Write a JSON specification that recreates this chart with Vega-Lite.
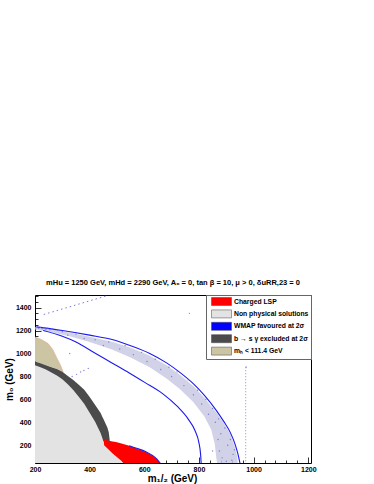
{
  "$schema": "https://vega.github.io/schema/vega-lite/v6.json",
  "width": 276,
  "height": 168,
  "autosize": "none",
  "padding": {"left": 35, "top": 295, "right": 63, "bottom": 21},
  "background": "#ffffff",
  "title": {
    "text": "mHu = 1250 GeV, mHd = 2290 GeV, A₀ = 0, tan β = 10, μ > 0, δuRR,23 = 0",
    "font": "Liberation Sans",
    "fontWeight": "bold",
    "fontSize": 7.5,
    "color": "#000000",
    "anchor": "middle",
    "baseline": "alphabetic",
    "offset": 0
  },
  "datasets": {
    "areas": [
      {"region": "mₕ < 111.4 GeV", "x": 200, "top": 1144, "bottom": 930},
      {"region": "mₕ < 111.4 GeV", "x": 225, "top": 1120, "bottom": 910},
      {"region": "mₕ < 111.4 GeV", "x": 248, "top": 1086, "bottom": 891},
      {"region": "mₕ < 111.4 GeV", "x": 265, "top": 1035, "bottom": 877},
      {"region": "mₕ < 111.4 GeV", "x": 278, "top": 970, "bottom": 866},
      {"region": "mₕ < 111.4 GeV", "x": 292, "top": 905, "bottom": 852},
      {"region": "mₕ < 111.4 GeV", "x": 303, "top": 840, "bottom": 835},

      {"region": "Non physical solutions", "x": 200, "top": 930, "bottom": 45},
      {"region": "Non physical solutions", "x": 220, "top": 914, "bottom": 45},
      {"region": "Non physical solutions", "x": 240, "top": 898, "bottom": 45},
      {"region": "Non physical solutions", "x": 260, "top": 881, "bottom": 45},
      {"region": "Non physical solutions", "x": 280, "top": 864, "bottom": 45},
      {"region": "Non physical solutions", "x": 300, "top": 840, "bottom": 45},
      {"region": "Non physical solutions", "x": 320, "top": 803, "bottom": 45},
      {"region": "Non physical solutions", "x": 340, "top": 768, "bottom": 45},
      {"region": "Non physical solutions", "x": 360, "top": 727, "bottom": 45},
      {"region": "Non physical solutions", "x": 380, "top": 683, "bottom": 45},
      {"region": "Non physical solutions", "x": 400, "top": 621, "bottom": 45},
      {"region": "Non physical solutions", "x": 420, "top": 550, "bottom": 45},
      {"region": "Non physical solutions", "x": 440, "top": 480, "bottom": 45},
      {"region": "Non physical solutions", "x": 447, "top": 445, "bottom": 45},
      {"region": "Non physical solutions", "x": 455, "top": 404, "bottom": 45},
      {"region": "Non physical solutions", "x": 465, "top": 352, "bottom": 45},
      {"region": "Non physical solutions", "x": 470, "top": 310, "bottom": 45},
      {"region": "Non physical solutions", "x": 473, "top": 250, "bottom": 45},
      {"region": "Non physical solutions", "x": 484, "top": 127, "bottom": 45},
      {"region": "Non physical solutions", "x": 500, "top": 95, "bottom": 45},
      {"region": "Non physical solutions", "x": 520, "top": 55, "bottom": 45},
      {"region": "Non physical solutions", "x": 525, "top": 45, "bottom": 45},

      {"region": "b → s γ excluded at 2σ", "x": 200, "top": 930, "bottom": 897},
      {"region": "b → s γ excluded at 2σ", "x": 220, "top": 914, "bottom": 879},
      {"region": "b → s γ excluded at 2σ", "x": 240, "top": 898, "bottom": 861},
      {"region": "b → s γ excluded at 2σ", "x": 260, "top": 881, "bottom": 835},
      {"region": "b → s γ excluded at 2σ", "x": 280, "top": 864, "bottom": 809},
      {"region": "b → s γ excluded at 2σ", "x": 300, "top": 840, "bottom": 775},
      {"region": "b → s γ excluded at 2σ", "x": 320, "top": 803, "bottom": 732},
      {"region": "b → s γ excluded at 2σ", "x": 340, "top": 768, "bottom": 681},
      {"region": "b → s γ excluded at 2σ", "x": 360, "top": 727, "bottom": 623},
      {"region": "b → s γ excluded at 2σ", "x": 380, "top": 683, "bottom": 561},
      {"region": "b → s γ excluded at 2σ", "x": 400, "top": 621, "bottom": 484},
      {"region": "b → s γ excluded at 2σ", "x": 420, "top": 550, "bottom": 405},
      {"region": "b → s γ excluded at 2σ", "x": 440, "top": 480, "bottom": 306},
      {"region": "b → s γ excluded at 2σ", "x": 447, "top": 445, "bottom": 258},
      {"region": "b → s γ excluded at 2σ", "x": 450, "top": 430, "bottom": 235},
      {"region": "b → s γ excluded at 2σ", "x": 455, "top": 404, "bottom": 235},
      {"region": "b → s γ excluded at 2σ", "x": 465, "top": 352, "bottom": 235},
      {"region": "b → s γ excluded at 2σ", "x": 470, "top": 310, "bottom": 235},
      {"region": "b → s γ excluded at 2σ", "x": 473, "top": 250, "bottom": 235},

      {"region": "Charged LSP", "x": 451, "top": 250, "bottom": 250},
      {"region": "Charged LSP", "x": 453, "top": 249, "bottom": 200},
      {"region": "Charged LSP", "x": 470, "top": 240, "bottom": 160},
      {"region": "Charged LSP", "x": 484, "top": 233, "bottom": 127},
      {"region": "Charged LSP", "x": 496, "top": 229, "bottom": 103},
      {"region": "Charged LSP", "x": 520, "top": 212, "bottom": 55},
      {"region": "Charged LSP", "x": 523, "top": 210, "bottom": 45},
      {"region": "Charged LSP", "x": 545, "top": 195, "bottom": 45},
      {"region": "Charged LSP", "x": 575, "top": 170, "bottom": 45},
      {"region": "Charged LSP", "x": 606, "top": 142, "bottom": 45},
      {"region": "Charged LSP", "x": 630, "top": 110, "bottom": 45},
      {"region": "Charged LSP", "x": 645, "top": 80, "bottom": 45},
      {"region": "Charged LSP", "x": 652, "top": 60, "bottom": 45},
      {"region": "Charged LSP", "x": 657, "top": 45, "bottom": 45},

      {"region": "WMAP band", "x": 200, "top": 1230, "bottom": 1210},
      {"region": "WMAP band", "x": 260, "top": 1210, "bottom": 1185},
      {"region": "WMAP band", "x": 330, "top": 1180, "bottom": 1148},
      {"region": "WMAP band", "x": 400, "top": 1145, "bottom": 1100},
      {"region": "WMAP band", "x": 482, "top": 1103, "bottom": 1035},
      {"region": "WMAP band", "x": 550, "top": 1050, "bottom": 965},
      {"region": "WMAP band", "x": 620, "top": 980, "bottom": 880},
      {"region": "WMAP band", "x": 680, "top": 900, "bottom": 785},
      {"region": "WMAP band", "x": 730, "top": 815, "bottom": 690},
      {"region": "WMAP band", "x": 780, "top": 715, "bottom": 575},
      {"region": "WMAP band", "x": 820, "top": 615, "bottom": 450},
      {"region": "WMAP band", "x": 845, "top": 540, "bottom": 335},
      {"region": "WMAP band", "x": 858, "top": 500, "bottom": 210},
      {"region": "WMAP band", "x": 863, "top": 485, "bottom": 100},
      {"region": "WMAP band", "x": 866, "top": 478, "bottom": 45},
      {"region": "WMAP band", "x": 890, "top": 395, "bottom": 45},
      {"region": "WMAP band", "x": 915, "top": 295, "bottom": 45},
      {"region": "WMAP band", "x": 930, "top": 195, "bottom": 45},
      {"region": "WMAP band", "x": 940, "top": 100, "bottom": 45},
      {"region": "WMAP band", "x": 942, "top": 45, "bottom": 45}
    ],
    "curves": [
      {"curve": "outer", "x": 205, "y": 1232},
      {"curve": "outer", "x": 300, "y": 1200},
      {"curve": "outer", "x": 400, "y": 1160},
      {"curve": "outer", "x": 482, "y": 1122},
      {"curve": "outer", "x": 550, "y": 1068},
      {"curve": "outer", "x": 620, "y": 1000},
      {"curve": "outer", "x": 680, "y": 920},
      {"curve": "outer", "x": 730, "y": 835},
      {"curve": "outer", "x": 780, "y": 735},
      {"curve": "outer", "x": 820, "y": 635},
      {"curve": "outer", "x": 860, "y": 515},
      {"curve": "outer", "x": 890, "y": 410},
      {"curve": "outer", "x": 915, "y": 310},
      {"curve": "outer", "x": 932, "y": 210},
      {"curve": "outer", "x": 943, "y": 120},
      {"curve": "outer", "x": 950, "y": 45},
      {"curve": "inner", "x": 230, "y": 1200},
      {"curve": "inner", "x": 300, "y": 1150},
      {"curve": "inner", "x": 350, "y": 1100},
      {"curve": "inner", "x": 422, "y": 1000},
      {"curve": "inner", "x": 480, "y": 920},
      {"curve": "inner", "x": 545, "y": 830},
      {"curve": "inner", "x": 600, "y": 750},
      {"curve": "inner", "x": 667, "y": 650},
      {"curve": "inner", "x": 720, "y": 540},
      {"curve": "inner", "x": 760, "y": 430},
      {"curve": "inner", "x": 785, "y": 330},
      {"curve": "inner", "x": 800, "y": 220},
      {"curve": "inner", "x": 806, "y": 120},
      {"curve": "inner", "x": 808, "y": 45},
      {"curve": "redEdge", "x": 545, "y": 196},
      {"curve": "redEdge", "x": 575, "y": 171},
      {"curve": "redEdge", "x": 606, "y": 143},
      {"curve": "redEdge", "x": 630, "y": 111},
      {"curve": "redEdge", "x": 645, "y": 81},
      {"curve": "redEdge", "x": 652, "y": 61},
      {"curve": "redEdge", "x": 658, "y": 45},
      {"curve": "tanEdge", "x": 200, "y": 1144},
      {"curve": "tanEdge", "x": 225, "y": 1120},
      {"curve": "tanEdge", "x": 248, "y": 1086},
      {"curve": "tanEdge", "x": 265, "y": 1035},
      {"curve": "tanEdge", "x": 278, "y": 970},
      {"curve": "tanEdge", "x": 292, "y": 905},
      {"curve": "tanEdge", "x": 303, "y": 840},
      {"curve": "diagTop", "x": 232, "y": 1340},
      {"curve": "diagTop", "x": 465, "y": 1505}
    ],
    "dots": [
      {"x": 203, "y": 1222}, {"x": 208, "y": 1230}, {"x": 214, "y": 1219}, {"x": 220, "y": 1226},
      {"x": 226, "y": 1216}, {"x": 232, "y": 1224}, {"x": 240, "y": 1212}, {"x": 247, "y": 1220},
      {"x": 255, "y": 1208}, {"x": 262, "y": 1215},
      {"x": 336, "y": 800}, {"x": 352, "y": 818}, {"x": 367, "y": 838}, {"x": 379, "y": 852},
      {"x": 395, "y": 870}, {"x": 327, "y": 1000}, {"x": 765, "y": 1350}, {"x": 973, "y": 882},
      {"x": 300, "y": 1190}, {"x": 320, "y": 1160}, {"x": 350, "y": 1170}, {"x": 380, "y": 1130},
      {"x": 420, "y": 1120}, {"x": 450, "y": 1070}, {"x": 470, "y": 1100}, {"x": 510, "y": 1040},
      {"x": 530, "y": 1070}, {"x": 560, "y": 990}, {"x": 590, "y": 1010}, {"x": 610, "y": 930},
      {"x": 640, "y": 950}, {"x": 660, "y": 860}, {"x": 690, "y": 880}, {"x": 700, "y": 800},
      {"x": 720, "y": 840}, {"x": 745, "y": 720}, {"x": 760, "y": 770}, {"x": 780, "y": 640},
      {"x": 795, "y": 680}, {"x": 810, "y": 560}, {"x": 825, "y": 600}, {"x": 835, "y": 470},
      {"x": 850, "y": 520}, {"x": 860, "y": 400}, {"x": 872, "y": 430}, {"x": 880, "y": 300},
      {"x": 895, "y": 350}, {"x": 905, "y": 200}, {"x": 915, "y": 250}, {"x": 925, "y": 120},
      {"x": 930, "y": 160}, {"x": 875, "y": 150}, {"x": 885, "y": 90}, {"x": 900, "y": 60},
      {"x": 920, "y": 70}, {"x": 870, "y": 250}, {"x": 850, "y": 150}
    ],
    "rules": [
      {"x": 971, "y": 880, "y2": 45}
    ]
  },
  "encoding": {
    "x": {
      "field": "x", "type": "quantitative",
      "scale": {"domain": [200, 1210], "nice": false, "zero": false},
      "axis": {
        "title": "m₁/₂ (GeV)",
        "values": [200,240,280,320,360,400,440,480,520,560,600,640,680,720,760,800,840,880,920,960,1000,1040,1080,1120,1160,1200],
        "labelExpr": "datum.value % 200 === 0 ? datum.label : ''",
        "tickSize": {"condition": {"test": "datum.value % 200 === 0", "value": -6}, "value": -3},
        "labelPadding": 8,
        "titleFontSize": 10,
        "titleX": 137,
        "titleY": 15,
        "titleAlign": "center",
        "titleBaseline": "middle",
        "titleAnchor": null
      }
    },
    "y": {
      "field": "top", "type": "quantitative", "stack": null,
      "scale": {"domain": [45, 1510], "nice": false, "zero": false},
      "axis": {
        "title": "m₀ (GeV)",
        "values": [50,100,150,200,250,300,350,400,450,500,550,600,650,700,750,800,850,900,950,1000,1050,1100,1150,1200,1250,1300,1350,1400,1450,1500],
        "labelExpr": "datum.value % 200 === 0 ? datum.label : ''",
        "tickSize": {"condition": {"test": "datum.value % 200 === 0", "value": -6}, "value": -3},
        "labelPadding": 10,
        "titleFontSize": 10,
        "titleX": -26,
        "titleY": 84,
        "titleAngle": -90,
        "titleAlign": "center",
        "titleBaseline": "middle"
      }
    }
  },
  "layer": [
    {
      "data": {"name": "areas"},
      "transform": [{"filter": "datum.region === 'WMAP band'"}],
      "mark": {"type": "area", "color": "#c9c9e4", "opacity": 0.85, "clip": true},
      "encoding": {
        "y2": {"field": "bottom"}
      }
    },
    {
      "data": {"name": "areas"},
      "transform": [{"filter": "datum.region === 'mₕ < 111.4 GeV'"}],
      "mark": {"type": "area", "clip": true},
      "encoding": {
        "y2": {"field": "bottom"},
        "color": {
          "field": "region", "type": "nominal",
          "scale": {
            "domain": ["Charged LSP", "Non physical solutions", "WMAP favoured at 2σ", "b → s γ excluded at 2σ", "mₕ < 111.4 GeV"],
            "range": ["#ff0000", "#e3e3e3", "#0000ff", "#4b4b4b", "#ccc5a3"]
          },
          "legend": {
            "title": null,
            "orient": "top-right",
            "offset": 0,
            "symbolType": "M-2.5,-1H2.5V1H-2.5Z",
            "symbolSize": 64,
            "symbolOffset": 9,
            "symbolStrokeColor": "#444444",
            "symbolStrokeWidth": 0.5,
            "symbolOpacity": 1,
            "labelFont": "Liberation Sans",
            "labelFontWeight": "bold",
            "labelFontSize": 6.8,
            "labelColor": "#000000",
            "labelOffset": 8,
            "labelLimit": 0,
            "padding": 2,
            "rowPadding": 1.4,
            "strokeColor": "#666666",
            "fillColor": "#ffffff"
          }
        }
      }
    },
    {
      "data": {"name": "areas"},
      "transform": [{"filter": "datum.region === 'Non physical solutions'"}],
      "mark": {"type": "area", "clip": true},
      "encoding": {
        "y2": {"field": "bottom"},
        "color": {"field": "region", "type": "nominal"}
      }
    },
    {
      "data": {"name": "areas"},
      "transform": [{"filter": "datum.region === 'b → s γ excluded at 2σ'"}],
      "mark": {"type": "area", "clip": true},
      "encoding": {
        "y2": {"field": "bottom"},
        "color": {"field": "region", "type": "nominal"}
      }
    },
    {
      "data": {"name": "areas"},
      "transform": [{"filter": "datum.region === 'Charged LSP'"}],
      "mark": {"type": "area", "clip": true},
      "encoding": {
        "y2": {"field": "bottom"},
        "color": {"field": "region", "type": "nominal"}
      }
    },
    {
      "data": {"name": "curves"},
      "transform": [{"filter": "datum.curve === 'tanEdge'"}],
      "mark": {"type": "line", "color": "#e0a080", "strokeWidth": 0.7, "opacity": 0.7, "clip": true},
      "encoding": {"y": {"field": "y", "type": "quantitative"}}
    },
    {
      "data": {"name": "curves"},
      "transform": [{"filter": "datum.curve === 'outer' || datum.curve === 'inner' || datum.curve === 'redEdge'"}],
      "mark": {"type": "line", "color": "#1a1aee", "strokeWidth": 1.1, "interpolate": "monotone", "clip": true},
      "encoding": {
        "y": {"field": "y", "type": "quantitative"},
        "detail": {"field": "curve", "type": "nominal"}
      }
    },
    {
      "data": {"name": "curves"},
      "transform": [{"filter": "datum.curve === 'diagTop'"}],
      "mark": {"type": "line", "color": "#7a7ad8", "strokeWidth": 1, "strokeDash": [1.5, 3], "clip": true},
      "encoding": {"y": {"field": "y", "type": "quantitative"}}
    },
    {
      "data": {"name": "rules"},
      "mark": {"type": "rule", "color": "#8a8ad0", "strokeWidth": 1, "strokeDash": [1, 2], "clip": true},
      "encoding": {
        "y": {"field": "y", "type": "quantitative"},
        "y2": {"field": "y2"}
      }
    },
    {
      "data": {"name": "dots"},
      "mark": {"type": "point", "filled": true, "size": 2, "color": "#6a6acc", "opacity": 0.8, "clip": true},
      "encoding": {"y": {"field": "y", "type": "quantitative"}}
    }
  ],
  "config": {
    "view": {"stroke": "#000000", "strokeWidth": 1},
    "axis": {
      "grid": false,
      "domain": false,
      "format": "d",
      "zindex": 2,
      "labelFont": "Liberation Sans",
      "labelFontWeight": "bold",
      "labelFontSize": 7,
      "labelColor": "#000000",
      "labelOverlap": false,
      "labelFlush": false,
      "tickColor": "#000000",
      "tickWidth": 0.8,
      "titleFont": "Liberation Sans",
      "titleFontWeight": "bold",
      "titleColor": "#000000"
    }
  }
}
